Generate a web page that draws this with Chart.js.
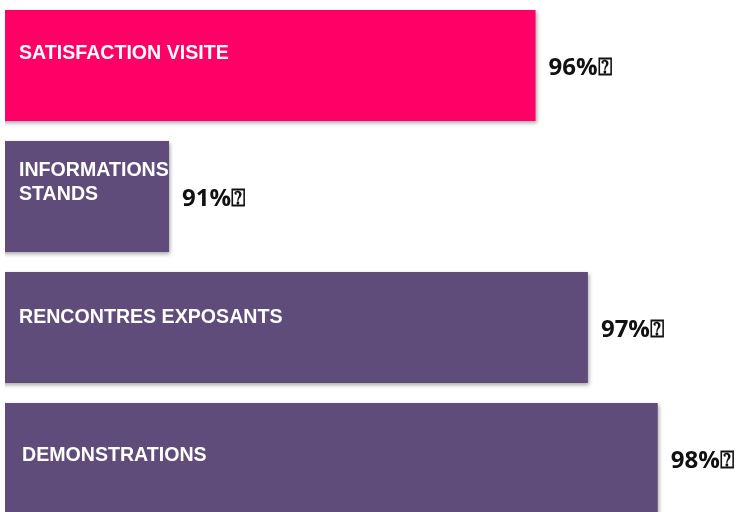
<!DOCTYPE html>
<html>
<head>
<meta charset="utf-8">
<script src="https://cdn.jsdelivr.net/npm/chart.js@4/dist/chart.umd.min.js"></script>
<style>
    html, body { margin: 0; padding: 0; background: #fff; overflow: hidden; }
    #wrap { width: 738px; height: 524px; }
</style>
</head>
<body>
<div id="wrap"><canvas id="barChart" width="738" height="524"></canvas></div>
<script>
    // categories (line breaks as drawn in the bars)
    var categories = [
        ["SATISFACTION VISITE"],
        ["INFORMATIONS", "STANDS"],
        ["RENCONTRES EXPOSANTS"],
        ["DEMONSTRATIONS"]
    ];
    // bar lengths
    var values = [96.3, 91.05, 97.05, 98.05];
    // value labels printed next to each bar
    var valueLabels = ["96%\u2370", "91%\u2370", "97%\u2370", "98%\u2370"];
    var barColors = ["#FF0066", "#604C7A", "#604C7A", "#604C7A"];

    var shadowPlugin = {
        id: 'barShadow',
        beforeDatasetsDraw: function (chart) {
            var ctx = chart.ctx;
            ctx.save();
            ctx.shadowColor = 'rgba(0,0,0,0.35)';
            ctx.shadowBlur = 4;
            ctx.shadowOffsetX = 1;
            ctx.shadowOffsetY = 2;
        },
        afterDatasetsDraw: function (chart) {
            chart.ctx.restore();
        }
    };

    var textPlugin = {
        id: 'barTexts',
        afterDatasetsDraw: function (chart, args, opts) {
            var ctx = chart.ctx;
            var meta = chart.getDatasetMeta(0);
            var left = chart.chartArea.left;
            ctx.save();
            ctx.textBaseline = 'middle';
            meta.data.forEach(function (bar, i) {
                var lines = categories[i];
                var lineH = 24;
                var blockCenter = bar.y + opts.labelShift[i];
                var firstY = blockCenter - (lines.length - 1) * lineH / 2;
                ctx.fillStyle = '#ffffff';
                ctx.font = 'bold 19.6px "Liberation Sans", Arial, sans-serif';
                ctx.textAlign = 'left';
                lines.forEach(function (line, j) {
                    ctx.fillText(line, left + opts.labelX[i], firstY + j * lineH);
                });

                ctx.fillStyle = '#111111';
                ctx.font = 'bold 24px "Open Sans", "Noto Sans", sans-serif';
                ctx.fillText(valueLabels[i], bar.x + 13, bar.y + 3);
            });
            ctx.restore();
        }
    };

    new Chart(document.getElementById("barChart"), {
        type: 'bar',
        data: {
            labels: categories,
            datasets: [{
                label: "",
                data: values,
                backgroundColor: barColors,
                borderWidth: 0,
                categoryPercentage: 1,
                barPercentage: 0.847
            }]
        },
        plugins: [shadowPlugin, textPlugin],
        options: {
            indexAxis: 'y',
            responsive: false,
            animation: false,
            devicePixelRatio: 1,
            layout: {padding: {left: 5, right: 0, top: 0, bottom: 0}},
            plugins: {
                legend: {display: false},
                tooltip: {enabled: false},
                barTexts: {
                    labelShift: [-12, -14, -10, -3],
                    labelX: [14, 14, 14, 17]
                }
            },
            scales: {
                x: {display: false, min: 88.7, max: 99.2},
                y: {display: false}
            }
        }
    });
</script>
</body>
</html>
